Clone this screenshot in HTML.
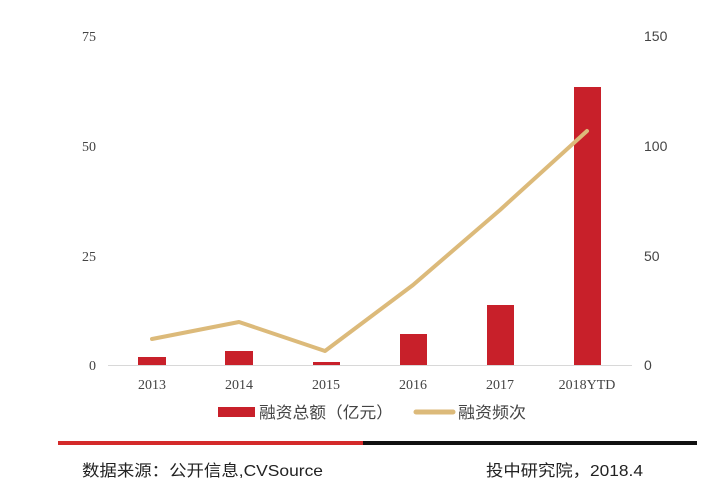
<!DOCTYPE html>
<html><head><meta charset="utf-8"><style>
html,body{margin:0;padding:0;background:#fff;width:723px;height:496px;overflow:hidden}
</style></head><body>
<svg width="723" height="496" xmlns="http://www.w3.org/2000/svg">
<g font-family="Liberation Serif, serif" font-size="14" fill="#444" text-anchor="end">
<text x="96" y="41">75</text><text x="96" y="151">50</text><text x="96" y="261">25</text><text x="96" y="370">0</text>
</g>
<g font-family="Liberation Sans, sans-serif" font-size="14" fill="#444">
<text x="644" y="41">150</text><text x="644" y="151">100</text><text x="644" y="261">50</text><text x="644" y="370">0</text>
</g>
<line x1="108" y1="365.5" x2="632" y2="365.5" stroke="#d8d8d8" stroke-width="1"/>
<g fill="#c8202a">
<rect x="138" y="357" width="28" height="8"/>
<rect x="225" y="351" width="28" height="14"/>
<rect x="313" y="362" width="27" height="3"/>
<rect x="400" y="334" width="27" height="31"/>
<rect x="487" y="305" width="27" height="60"/>
<rect x="574" y="87" width="27" height="278"/>
</g>
<polyline points="152,339 239,322 325,351 413,285 500,210 587,131" fill="none" stroke="#dcba7a" stroke-width="4" stroke-linejoin="round" stroke-linecap="round"/>
<g font-family="Liberation Serif, serif" font-size="14" fill="#444" text-anchor="middle">
<text x="152" y="389">2013</text><text x="239" y="389">2014</text><text x="326" y="389">2015</text><text x="413" y="389">2016</text><text x="500" y="389">2017</text><text x="587" y="389">2018YTD</text>
</g>
<rect x="218" y="407" width="37" height="10" fill="#c8202a"/>
<text x="259" y="418" font-family="Liberation Sans, Noto Sans CJK SC, sans-serif" font-size="16" fill="#444" textLength="134" lengthAdjust="spacingAndGlyphs">融资总额（亿元）</text>
<line x1="416" y1="412" x2="453" y2="412" stroke="#dcba7a" stroke-width="5" stroke-linecap="round"/>
<text x="458" y="418" font-family="Liberation Sans, Noto Sans CJK SC, sans-serif" font-size="16" fill="#444" textLength="68" lengthAdjust="spacingAndGlyphs">融资频次</text>
<rect x="58" y="441" width="305" height="4" fill="#d42a2a"/>
<rect x="363" y="441" width="334" height="4" fill="#111"/>
<text x="82" y="476" font-family="Liberation Sans, Noto Sans CJK SC, sans-serif" font-size="16" fill="#222" textLength="241" lengthAdjust="spacingAndGlyphs">数据来源：公开信息,CVSource</text>
<text x="486" y="476" font-family="Liberation Sans, Noto Sans CJK SC, sans-serif" font-size="16" fill="#222" textLength="157" lengthAdjust="spacingAndGlyphs">投中研究院，2018.4</text>
</svg>
</body></html>
